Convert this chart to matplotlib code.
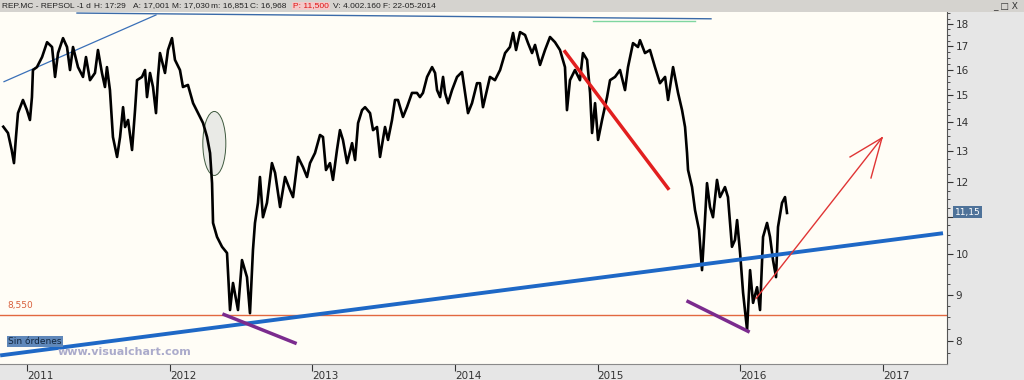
import numpy as np
import matplotlib
matplotlib.use('Agg')
import matplotlib.pyplot as plt
from matplotlib.patches import Ellipse, Rectangle
from matplotlib.transforms import ScaledTranslation
from matplotlib.ticker import FixedLocator, NullFormatter

# REP.MC daily closes (decimal year, price in EUR)
dates = [2010.832, 2010.865, 2010.891, 2010.907, 2010.921, 2010.935, 2010.970, 2010.998,
         2011.019, 2011.033, 2011.040, 2011.068, 2011.104, 2011.139, 2011.174, 2011.195,
         2011.216, 2011.251, 2011.279, 2011.300, 2011.321, 2011.356, 2011.391, 2011.412,
         2011.440, 2011.475, 2011.496, 2011.524, 2011.545, 2011.559, 2011.580, 2011.601,
         2011.630, 2011.651, 2011.672, 2011.686, 2011.707, 2011.735, 2011.756, 2011.770,
         2011.805, 2011.826, 2011.840, 2011.861, 2011.882, 2011.903, 2011.917, 2011.931,
         2011.966, 2011.987, 2012.015, 2012.036, 2012.071, 2012.092, 2012.127, 2012.163,
         2012.198, 2012.233, 2012.261, 2012.282, 2012.296, 2012.303, 2012.331, 2012.366,
         2012.401, 2012.422, 2012.443, 2012.478, 2012.506, 2012.527, 2012.541, 2012.562,
         2012.583, 2012.597, 2012.618, 2012.632, 2012.653, 2012.681, 2012.716, 2012.738,
         2012.773, 2012.808, 2012.843, 2012.864, 2012.899, 2012.934, 2012.962, 2012.983,
         2013.018, 2013.053, 2013.074, 2013.095, 2013.123, 2013.144, 2013.172, 2013.193,
         2013.214, 2013.243, 2013.278, 2013.299, 2013.320, 2013.348, 2013.369, 2013.404,
         2013.425, 2013.453, 2013.474, 2013.509, 2013.530, 2013.558, 2013.579, 2013.600,
         2013.635, 2013.663, 2013.698, 2013.733, 2013.754, 2013.775, 2013.804, 2013.839,
         2013.860, 2013.874, 2013.895, 2013.916, 2013.930, 2013.951, 2013.979, 2014.014,
         2014.049, 2014.070, 2014.091, 2014.119, 2014.154, 2014.175, 2014.196, 2014.224,
         2014.245, 2014.280, 2014.316, 2014.351, 2014.385, 2014.407, 2014.428, 2014.456,
         2014.491, 2014.512, 2014.540, 2014.561, 2014.596, 2014.631, 2014.666, 2014.701,
         2014.736, 2014.771, 2014.785, 2014.806, 2014.841, 2014.876, 2014.897, 2014.926,
         2014.947, 2014.961, 2014.982, 2015.003, 2015.031, 2015.066, 2015.087, 2015.122,
         2015.157, 2015.192, 2015.213, 2015.248, 2015.283, 2015.297, 2015.332, 2015.367,
         2015.402, 2015.437, 2015.473, 2015.494, 2015.529, 2015.564, 2015.592, 2015.613,
         2015.627, 2015.634, 2015.662, 2015.683, 2015.711, 2015.732, 2015.746, 2015.767,
         2015.788, 2015.809, 2015.837, 2015.858, 2015.893, 2015.914, 2015.942, 2015.963,
         2015.978, 2015.999, 2016.020, 2016.048, 2016.069, 2016.090, 2016.118, 2016.139,
         2016.160, 2016.188, 2016.209, 2016.230, 2016.251, 2016.265, 2016.293, 2016.314,
         2016.328]
prices = [13.84, 13.62, 13.04, 12.61, 13.48, 14.33, 14.82, 14.44,
          14.08, 14.93, 16.00, 16.12, 16.54, 17.18, 16.97, 15.72,
          16.71, 17.36, 16.97, 16.00, 16.97, 16.12, 15.72, 16.54,
          15.59, 15.88, 16.84, 15.88, 15.32, 16.12, 15.20, 13.48,
          12.81, 13.48, 14.55, 13.83, 14.08, 13.04, 14.44, 15.59,
          15.72, 16.00, 14.93, 15.88, 15.32, 14.33, 15.72, 16.71,
          15.88, 16.84, 17.36, 16.42, 16.00, 15.32, 15.40, 14.70,
          14.33, 13.97, 13.48, 12.94, 11.98, 10.82, 10.44, 10.18,
          10.02, 8.66, 9.28, 8.66, 9.84, 9.59, 9.42, 8.59,
          10.10, 10.82, 11.39, 12.17, 10.98, 11.39, 12.61, 12.30,
          11.27, 12.17, 11.77, 11.56, 12.81, 12.48, 12.17, 12.61,
          12.94, 13.55, 13.48, 12.39, 12.61, 12.08, 13.04, 13.72,
          13.38, 12.61, 13.27, 12.71, 13.97, 14.44, 14.55, 14.33,
          13.72, 13.83, 12.81, 13.83, 13.38, 14.08, 14.82, 14.82,
          14.19, 14.55, 15.09, 15.09, 14.93, 15.09, 15.72, 16.12,
          15.88, 15.20, 14.93, 15.72, 15.09, 14.70, 15.20, 15.72,
          15.92, 15.09, 14.33, 14.70, 15.47, 15.47, 14.55, 15.20,
          15.72, 15.59, 16.00, 16.71, 16.97, 17.59, 16.84, 17.63,
          17.50, 17.14, 16.71, 17.06, 16.21, 16.84, 17.41, 17.18,
          16.84, 16.12, 14.44, 15.59, 16.00, 15.59, 16.71, 16.42,
          15.09, 13.62, 14.70, 13.38, 14.08, 14.93, 15.59, 15.72,
          16.00, 15.20, 16.12, 17.14, 16.97, 17.27, 16.71, 16.84,
          16.12, 15.47, 15.72, 14.82, 16.12, 15.09, 14.44, 13.83,
          12.94, 12.39, 11.86, 11.18, 10.63, 9.59, 10.44, 11.98,
          11.27, 10.98, 12.08, 11.56, 11.86, 11.56, 10.18, 10.36,
          10.90, 10.02, 9.05, 8.23, 9.59, 8.82, 9.18, 8.66,
          10.44, 10.82, 10.44, 9.84, 9.42, 10.71, 11.39, 11.56,
          11.10]

years = [2011, 2012, 2013, 2014, 2015, 2016, 2017]
price_ticks = [8, 9, 10, 11, 12, 13, 14, 15, 16, 17, 18]
support_level = 8.55
last_price = 11.15

# drawn trend lines: (date, price) pairs
support_x = [2010.810, 2017.422]
support_y = [7.71, 10.54]
top_line_x = [2011.349, 2015.795]
top_line_y = [18.51, 18.24]
green_x = [2014.968, 2015.683]
green_y = [18.16, 18.16]
left_line_x = [2010.837, 2011.903]
left_line_y = [15.53, 18.42]
purple1_x = [2012.380, 2012.878]
purple1_y = [8.56, 7.96]
purple2_x = [2015.634, 2016.055]
purple2_y = [8.85, 8.20]
red_x = [2014.771, 2015.494]
red_y = [16.77, 11.82]
arrow_x = [2016.111, 2016.994]
arrow_y = [8.92, 13.45]
barb1_x = [2016.994, 2016.770]
barb1_y = [13.45, 12.81]
barb2_x = [2016.994, 2016.917]
barb2_y = [13.45, 12.14]

fig = plt.figure(figsize=(10.24, 3.8), dpi=100, facecolor='#e6e6e6')
fig.patches.append(Rectangle((0, 1 - 12 / 380), 1, 12 / 380, transform=fig.transFigure,
                             facecolor='#d5d3cf', edgecolor='none', zorder=0))

ax = fig.add_axes([0, 16 / 380, 947 / 1024, 352 / 380])
ax.set_facecolor('#fffdf6')
ax.set_yscale('log')
ax.set_xlim(2010.809, 2017.450)
ax.set_ylim(7.543, 18.56)

ax.plot(dates, prices, color='black', lw=1.9, zorder=4)

ax.axhline(support_level, color='#e2683f', lw=1, zorder=2)
ax.plot(support_x, support_y, color='#1e68c6', lw=2.8, zorder=5, solid_capstyle='butt')
ax.plot(top_line_x, top_line_y, color='#3a6aa8', lw=1, zorder=3)
ax.plot(green_x, green_y, color='#7fd6a0', lw=1, zorder=3)
ax.plot(left_line_x, left_line_y, color='#3a70b8', lw=0.9, zorder=3)
ax.plot(purple1_x, purple1_y, color='#7b2b8e', lw=2.5, zorder=5)
ax.plot(purple2_x, purple2_y, color='#7b2b8e', lw=2.5, zorder=5)
ax.plot(red_x, red_y, color='#e21f1f', lw=2.5, zorder=5)
ax.plot(arrow_x, arrow_y, color='#e03535', lw=1, zorder=5)
ax.plot(barb1_x, barb1_y, color='#e03535', lw=1, zorder=5)
ax.plot(barb2_x, barb2_y, color='#e03535', lw=1, zorder=5)

ell = Ellipse((0, 0), 0.23, 0.64, facecolor='#e9eae6', edgecolor='#3f5a3f', lw=0.7, zorder=3,
              transform=fig.dpi_scale_trans + ScaledTranslation(2012.312, 13.26, ax.transData))
ax.add_patch(ell)

ax.text(0.008, support_level * 1.012, '8,550', color='#d8603c', fontsize=6.5,
        transform=ax.get_yaxis_transform(), va='bottom')

# axes styling; the 11 label sits under the last-price box
ax.yaxis.tick_right()
ax.set_yticks(price_ticks)
ax.set_yticklabels(['' if p == 11 else str(p) for p in price_ticks])
minor = [v for v in np.arange(7.75, 18.6, 0.25) if v not in price_ticks]
ax.yaxis.set_minor_locator(FixedLocator(minor))
ax.yaxis.set_minor_formatter(NullFormatter())
ax.tick_params(axis='y', which='major', length=4, direction='out', labelsize=7.5,
               colors='#333333', pad=2)
ax.tick_params(axis='y', which='minor', length=2, direction='out', colors='#333333')

ax.set_xticks(years)
ax.set_xticklabels([str(y) for y in years])
ax.xaxis.set_minor_locator(FixedLocator([]))
ax.tick_params(axis='x', length=5, direction='out', labelsize=7.5, colors='#333333', pad=0)
for lab in ax.get_xticklabels():
    lab.set_ha('left')

for s in ['top', 'left']:
    ax.spines[s].set_visible(False)
ax.spines['right'].set_color('#555555')
ax.spines['bottom'].set_color('#8a8a8a')

# header text
hy = 1 - 6 / 380
hfont = 'Liberation Sans'
hdr = [(2, 'REP.MC - REPSOL -'), (79, '1 d'), (94, 'H: 17:29'), (133, 'A: 17,001'),
       (172, 'M: 17,030'), (211, 'm: 16,851'), (250, 'C: 16,968'),
       (333, 'V: 4.002.160'), (383, 'F: 22-05-2014')]
for px, t in hdr:
    fig.text(px / 1024, hy, t, fontsize=6.0, family=hfont, color='#222222', va='center')
fig.text(293 / 1024, hy, 'P: 11,500', fontsize=6.0, family=hfont, color='#e01010', va='center',
         bbox=dict(facecolor='#f3c9c9', edgecolor='none', pad=0.5))
fig.text(1018 / 1024, hy, '_ □ X', fontsize=6.5, color='#333333', va='center', ha='right')

# last price box and order label
fig.text(955 / 1024, (380 - 212) / 380, '11,15', fontsize=6.5, color='white', va='center',
         bbox=dict(facecolor='#4e7299', edgecolor='none', pad=1.2))
fig.text(8 / 1024, (380 - 341.5) / 380, 'Sin órdenes', fontsize=6.5, color='#13263d', va='center',
         bbox=dict(facecolor='#6088ba', edgecolor='none', pad=1.0))
fig.text(58 / 1024, (380 - 352) / 380, 'www.visualchart.com', fontsize=8, fontweight='bold',
         color='#ababcb', va='center')

fig.savefig('out.png', dpi=100, facecolor=fig.get_facecolor())
